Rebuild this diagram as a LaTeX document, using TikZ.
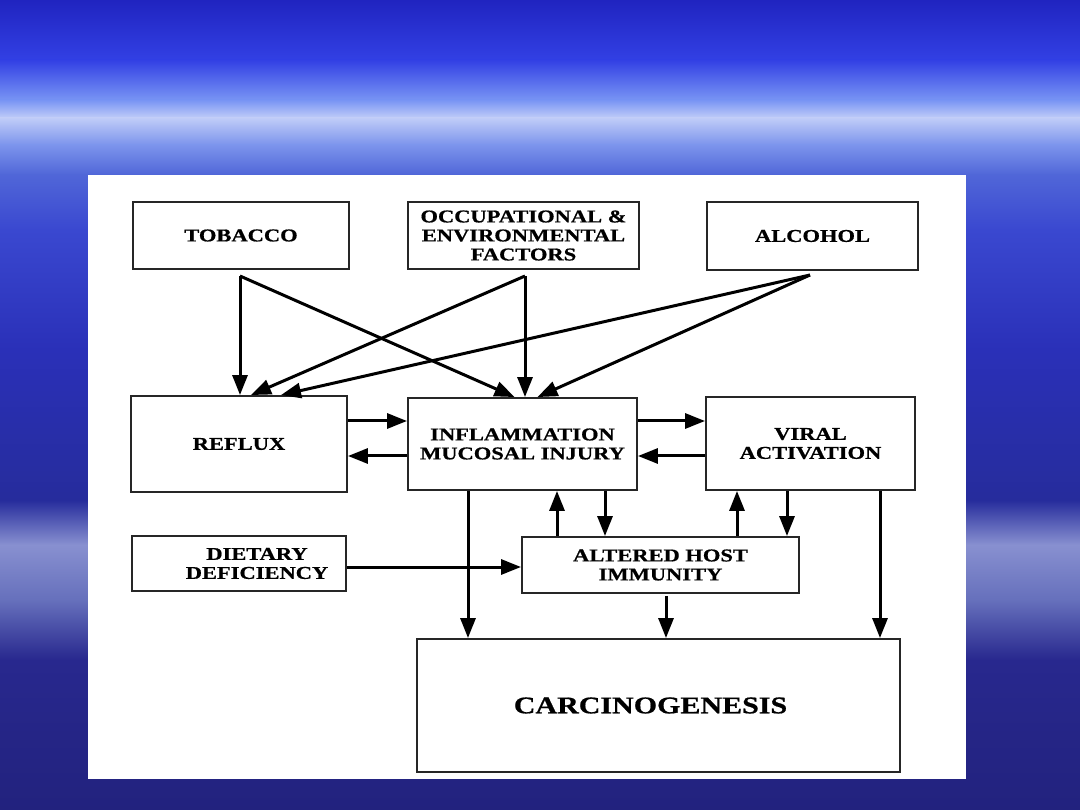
\documentclass[tikz,border=0pt]{standalone}
\usepackage{fontspec}
\setmainfont{Liberation Serif}[FakeStretch=1.25, BoldFeatures={FakeBold=0.8}]
\usetikzlibrary{arrows.meta}
\definecolor{skyA}{HTML}{2024C0}
\definecolor{skyB}{HTML}{3240E4}
\definecolor{skyC}{HTML}{7894F4}
\definecolor{skyD}{HTML}{C0CCF8}
\definecolor{skyE}{HTML}{7C94EC}
\definecolor{skyF}{HTML}{5066D8}
\definecolor{seaA}{HTML}{3A48D0}
\definecolor{seaB}{HTML}{2A30B8}
\definecolor{seaC}{HTML}{262C9C}
\definecolor{seaD}{HTML}{8890D0}
\definecolor{seaF}{HTML}{28288E}
\definecolor{seaG}{HTML}{6670BC}
\definecolor{seaI}{HTML}{22227E}
\definecolor{boxline}{HTML}{262626}
\tikzset{
  box/.style  = {rectangle, draw=boxline, fill=white, line width=1.9pt,
                 align=center, font=\fontsize{18}{19}\selectfont\bfseries, inner sep=2pt},
  bigbox/.style= {box, font=\fontsize{24}{26}\selectfont\bfseries},
  flow/.style = {-{Triangle[length=20pt, width=15pt]}, line width=3pt, draw=black},
}
\begin{document}
\begin{tikzpicture}[x=1pt, y=-1pt]
        \useasboundingbox (0,0) rectangle (1080,810);
        % sky and sea behind the sheet
        \foreach \ya/\yb/\ca/\cb in {0/60/skyA/skyB, 60/100/skyB/skyC, 100/118/skyC/skyD,
            118/145/skyD/skyE, 145/175/skyE/skyF, 175/230/skyF/seaA, 230/350/seaA/seaB,
            350/500/seaB/seaC, 500/545/seaC/seaD, 545/600/seaD/seaG, 600/660/seaG/seaF,
            660/810/seaF/seaI}
            {\fill[top color=\ca, bottom color=\cb] (0,\ya) rectangle (1080,\yb);}
        \fill[white] (88,175) rectangle (966,779);

        \node[box, minimum width=216pt, minimum height=67pt] (tob) at (241,235.5) {TOBACCO};
        \node[box, minimum width=231pt, minimum height=67pt] (occ) at (523.5,235.5)
            {OCCUPATIONAL \&\\ENVIRONMENTAL\\FACTORS};
        \node[box, minimum width=211pt, minimum height=68pt] (alc) at (812.5,236) {ALCOHOL};
        \node[box, minimum width=216pt, minimum height=96pt] (refl) at (239,444) {REFLUX};
        \node[box, minimum width=229pt, minimum height=92pt] (infl) at (522.5,444)
            {INFLAMMATION\\MUCOSAL INJURY};
        \node[box, minimum width=209pt, minimum height=93pt] (vir) at (810.5,443.5)
            {VIRAL\\ACTIVATION};
        \node[box, minimum width=214pt, minimum height=55pt] (diet) at (239,563.5)
            {\hspace*{36pt}DIETARY\\\hspace*{36pt}DEFICIENCY};
        \node[box, minimum width=277pt, minimum height=56pt] (imm) at (660.5,565)
            {ALTERED HOST\\IMMUNITY};
        \node[bigbox, minimum width=483pt, minimum height=133pt] (carc) at (658.5,705.5)
            {CARCINOGENESIS\hspace*{16pt}};

        \coordinate (tobo) at (240,276);
        \coordinate (occo) at (525,276);
        \coordinate (alco) at (810,275);

        % causes fanning out
        \draw[flow] (tobo) -- (tobo |- refl.north);
        \draw[flow] (tobo) -- ([xshift=-8pt]infl.north);
        \draw[flow] (occo) -- (occo |- infl.north);
        \draw[flow] (occo) -- ([xshift=12pt]refl.north);
        \draw[flow] (alco) -- ([xshift=42pt]refl.north);
        \draw[flow] (alco) -- ([xshift=15pt]infl.north);

        % two-way links
        \foreach \a/\b in {refl/infl, infl/vir}{
            \draw[flow] (\a.east |- 0,421) -- (\b.west |- 0,421);
            \draw[flow] (\b.west |- 0,456) -- (\a.east |- 0,456);
        }
        \foreach \x/\p/\q in {557/imm.north/infl.south, 605/infl.south/imm.north,
            737/imm.north/vir.south, 787/vir.south/imm.north}
            {\draw[flow] (\p -| \x,0) -- (\q -| \x,0);}
        \draw[flow] (infl.south -| 468,0) -- (carc.north -| 468,0);
        \draw[flow] (vir.south -| 880,0) -- (carc.north -| 880,0);
        \draw[flow] ([yshift=-2pt]imm.south -| 666,0) -- (carc.north -| 666,0);
        \draw[flow] (diet.east |- 0,567) -- (imm.west |- 0,567);
    \end{tikzpicture}
\end{document}
